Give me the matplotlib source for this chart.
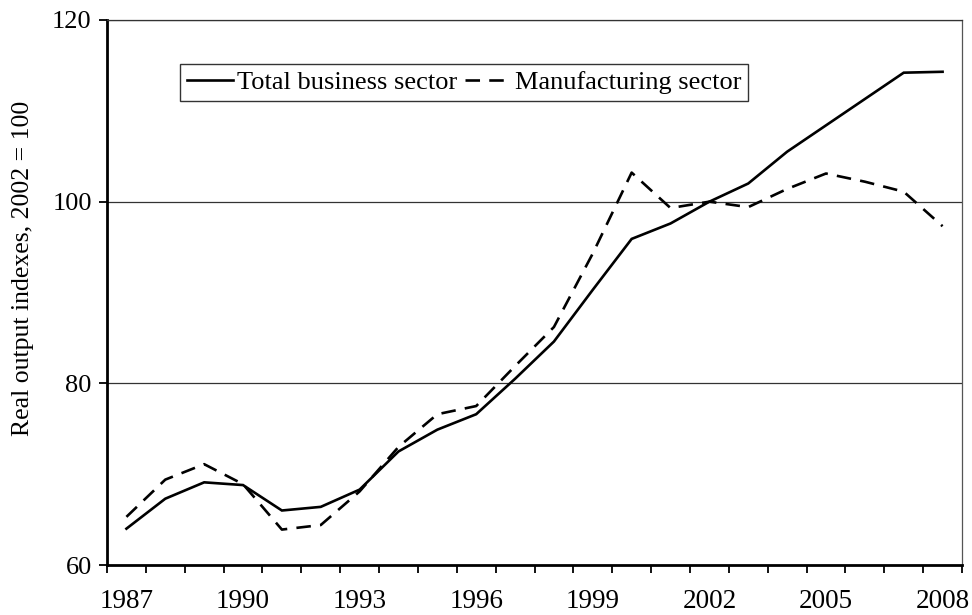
import matplotlib
matplotlib.use("Agg")
import matplotlib.pyplot as plt
import numpy as np

years = list(range(1987, 2009))
total_business = [64.0, 67.3, 69.1, 68.8, 66.0, 66.4, 68.3, 72.5, 74.9, 76.6,
                  80.5, 84.6, 90.3, 95.9, 97.6, 100.0, 102.0, 105.5, 108.4, 111.3,
                  114.2, 114.3]
manufacturing = [65.3, 69.4, 71.1, 68.9, 63.9, 64.4, 68.1, 73.0, 76.6, 77.5,
                 81.9, 86.2, 94.3, 103.2, 99.3, 100.0, 99.4, 101.4, 103.1, 102.2,
                 101.1, 97.3]
year_labels = [str(y) if (y - 1987) % 3 == 0 else "" for y in years]
y_ticks = [60, 80, 100, 120]

plt.rcParams['font.family'] = ['Liberation Serif', 'DejaVu Serif']

fig = plt.figure(figsize=(9.72, 6.15), dpi=100)
ax = fig.add_axes([107/972, 1-565/615, (962-107)/972, (565-20)/615])

x = np.arange(len(years))
ax.plot(x, total_business, color='black', lw=1.9, solid_joinstyle='miter',
        label='Total business sector')
ax.plot(x, manufacturing, color='black', lw=1.9, linestyle=(0, (5.5, 3.5)),
        label='Manufacturing sector')

ax.set_xlim(-0.5, len(years) - 0.5)
ax.set_ylim(60, 120)

# category axis: ticks between categories, labels at centers
ax.set_xticks(np.arange(-0.5, len(years) + 0.5, 1.0))
ax.set_xticklabels([])
ax.set_xticks(x, minor=True)
ax.set_xticklabels(year_labels, minor=True)
ax.tick_params(axis='x', which='major', direction='out', length=6, width=1.3, color='black')
ax.tick_params(axis='x', which='minor', length=0, labelsize=19.5, pad=17)

ax.set_yticks(y_ticks)
ax.set_yticklabels([str(v) for v in y_ticks])
ax.tick_params(axis='y', direction='out', length=6, width=1.3, labelsize=19, pad=5)

for v in [80, 100, 120]:
    ax.axhline(v, color='#333333', lw=0.9, zorder=0)

ax.spines['left'].set_linewidth(2.0)
ax.spines['bottom'].set_linewidth(2.0)
ax.spines['top'].set_linewidth(0.9)
ax.spines['top'].set_color('#333333')
ax.spines['right'].set_linewidth(0.9)
ax.spines['right'].set_color('#555555')

ax.set_ylabel('Real output indexes, 2002 = 100', fontsize=18.5)
ax.yaxis.set_label_coords(-(107-34)/855, (565-268)/545)

leg = ax.legend(loc='upper left', bbox_to_anchor=((180-107)/855, (565-64)/545),
                ncol=2, fontsize=19, frameon=True, fancybox=False,
                handlelength=1.75, handletextpad=0.15, columnspacing=0.3,
                borderpad=0.25, borderaxespad=0)
leg.get_frame().set_edgecolor('black')
leg.get_frame().set_linewidth(1.0)

fig.savefig('out.png', dpi=100)
